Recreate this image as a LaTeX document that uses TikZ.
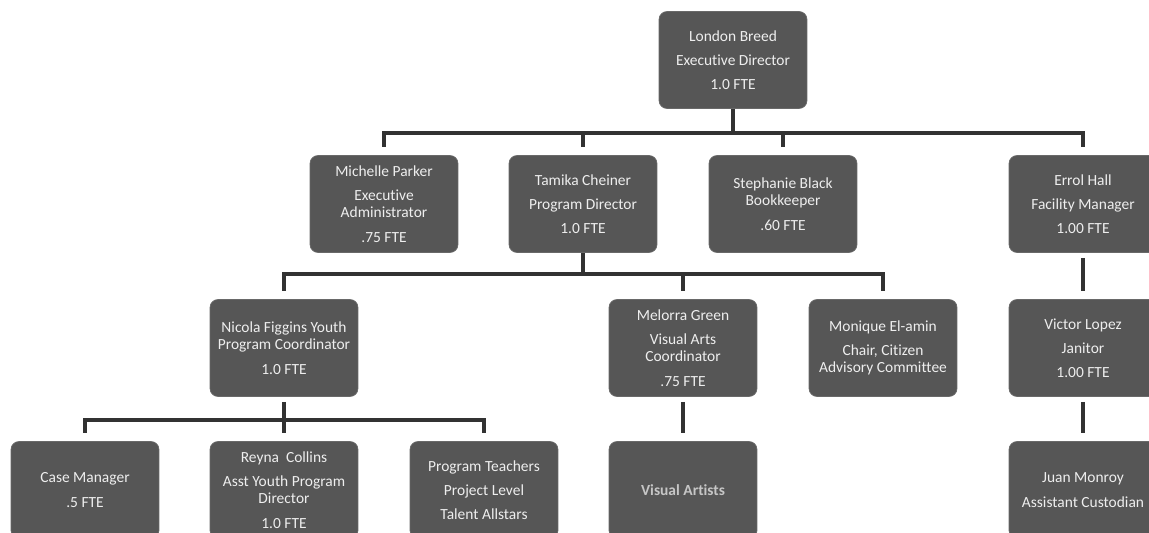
\documentclass[tikz,border=0pt]{standalone}
\usepackage{fontspec}
\setmainfont[Ligatures={NoCommon}]{Carlito}
\definecolor{boxgray}{RGB}{86,86,86}
\definecolor{rimgray}{RGB}{105,105,105}
\definecolor{linegray}{RGB}{50,50,50}
\definecolor{textwhite}{RGB}{238,238,238}

\begin{document}
\begin{tikzpicture}[x=0.02cm, y=-0.02cm,
    staffbox/.style ={rectangle, rounded corners=1.6mm, fill=boxgray, draw=rimgray,
                      line width=0.4pt, minimum width=2.96cm, minimum height=1.94cm,
                      align=center, text=textwhite, inner sep=1pt,
                      font=\fontsize{8.8}{9.8}\selectfont},
    reports/.style ={line width=2pt, draw=linegray},
    gap/.style ={shorten >=1.6mm}]
   \useasboundingbox (0,0) rectangle (1149,533);
   % top level
   \node[staffbox] (london) at (733,60) {London Breed\\[4pt]Executive Director\\[4pt]1.0 FTE};
   % second row
   \node[staffbox] (michelle) at (384,204) {Michelle Parker\\[4pt]Executive\\Administrator\\[4pt].75 FTE};
   \node[staffbox] (tamika) at (583,204) {Tamika Cheiner\\[4pt]Program Director\\[4pt]1.0 FTE};
   \node[staffbox] (stephanie) at (783,204) {Stephanie Black\\Bookkeeper\\[4pt].60 FTE};
   \node[staffbox] (errol) at (1083,204) {Errol Hall\\[4pt]Facility Manager\\[4pt]1.00 FTE};
   % third row
   \node[staffbox] (nicola) at (284,348) {Nicola Figgins Youth\\Program Coordinator\\[4pt]1.0 FTE};
   \node[staffbox] (melorra) at (683,348) {Melorra Green\\[4pt]Visual Arts\\Coordinator\\[4pt].75 FTE};
   \node[staffbox] (monique) at (883,348) {Monique El-amin\\[4pt]Chair, Citizen\\Advisory Committee};
   \node[staffbox] (victor) at (1083,348) {Victor Lopez\\[4pt]Janitor\\[4pt]1.00 FTE};
   % fourth row
   \node[staffbox] (casemgr) at (85,490) {Case Manager\\[4pt].5 FTE};
   \node[staffbox] (reyna) at (284,490) {Reyna\ \ Collins\\[4pt]Asst Youth Program\\Director\\[4pt]1.0 FTE};
   \node[staffbox] (teachers) at (484,490) {Program Teachers\\[4pt]Project Level\\[4pt]Talent Allstars};
   \node[staffbox, text=gray!45, font=\fontsize{8.8}{9.8}\selectfont\bfseries] (artists) at (683,490) {Visual Artists};
   \node[staffbox] (juan) at (1083,490) {Juan Monroy\\[4pt]Assistant Custodian};
   % buses
   \coordinate (topbus) at (733,133);
   \coordinate (midbus) at (583,274);
   \coordinate (lowbus) at (284,420);
   \draw[reports] (london) to (topbus);
   \draw[reports, gap] (topbus) -| (michelle);
   \draw[reports, gap] (topbus) -| (tamika);
   \draw[reports, gap] (topbus) -| (stephanie);
   \draw[reports, gap] (topbus) -| (errol);
   \draw[reports] (tamika) to (midbus);
   \draw[reports, gap] (midbus) -| (nicola);
   \draw[reports, gap] (midbus) -| (melorra);
   \draw[reports, gap] (midbus) -| (monique);
   \draw[reports, shorten <=1mm] (nicola) to (lowbus);
   \draw[reports, gap] (lowbus) -| (casemgr);
   \draw[reports, gap] (lowbus) -| (reyna);
   \draw[reports, gap] (lowbus) -| (teachers);
   \draw[reports, gap, shorten <=1mm] (melorra) to (artists);
   \draw[reports, gap, shorten <=1mm] (errol) to (victor);
   \draw[reports, gap, shorten <=1mm] (victor) to (juan);
\end{tikzpicture}
\end{document}
